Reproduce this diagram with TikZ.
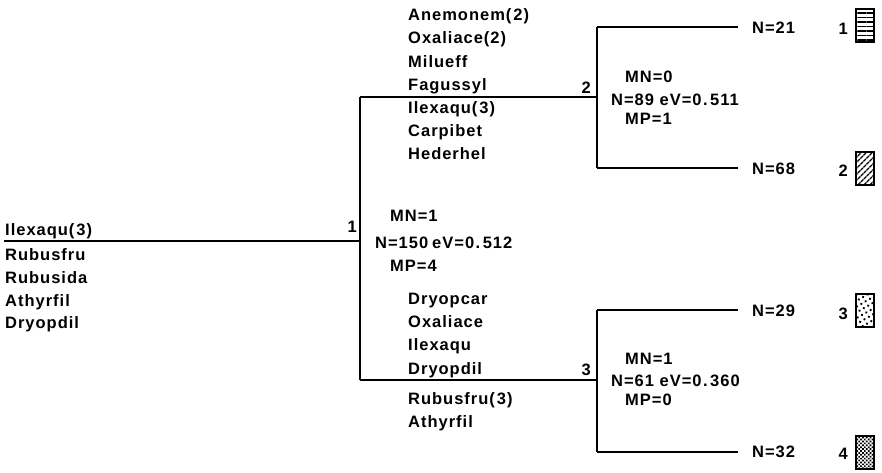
\documentclass[tikz,border=0pt]{standalone}
\usepackage{fontspec}
\setmainfont{Liberation Sans}[LetterSpace=6]
\usetikzlibrary{patterns,patterns.meta}
\newcommand{\opn}{(\kern2pt}
\newcommand{\pt}{\kern1.5pt.\kern2.5pt}
\begin{document}
\begin{tikzpicture}[x=1pt,y=-1pt,
  lbl/.style={anchor=base west,inner sep=0pt,font=\fontsize{16.5}{18}\selectfont\bfseries},
  nlbl/.style={anchor=base east,inner sep=0pt,font=\fontsize{16.5}{18}\selectfont\bfseries},
  branch/.style={line width=1.3pt},
  leafbox/.style={draw,line width=2pt,minimum width=18pt,minimum height=33pt,inner sep=0pt}]
\useasboundingbox (0,0) rectangle (882,472);
% split points and leaf ends
\coordinate (r)   at (4,241);
\coordinate (n1)  at (360,241);
\coordinate (n1t) at (360,97);
\coordinate (n1b) at (360,380);
\coordinate (n2)  at (597,97);
\coordinate (n2t) at (597,27);
\coordinate (n2b) at (597,168);
\coordinate (n3)  at (597,380);
\coordinate (n3t) at (597,310);
\coordinate (n3b) at (597,452);
\coordinate (l1)  at (738,27);
\coordinate (l2)  at (738,168);
\coordinate (l3)  at (738,310);
\coordinate (l4)  at (738,452);
% tree branches
\draw[branch] (r) -- (n1);
\draw[branch] (n1t) -- (n1b);
\draw[branch] (n1t) -- (n2);
\draw[branch] (n1b) -- (n3);
\draw[branch] (n2t) -- (n2b);
\draw[branch] (n2t) -- (l1);
\draw[branch] (n2b) -- (l2);
\draw[branch] (n3t) -- (n3b);
\draw[branch] (n3t) -- (l3);
\draw[branch] (n3b) -- (l4);
% root species lists
\node[lbl] (ra) at (5,235) {Ilexaqu\opn3)};
\node[lbl] (rb) at (5,260) {Rubusfru};
\node[lbl] (rc) at (5,283) {Rubusida};
\node[lbl] (rd) at (5,306) {Athyrfil};
\node[lbl] (re) at (5,328) {Dryopdil};
% node 1
\node[nlbl] (k1) at (357,232) {1};
\node[lbl] (s1a) at (390,221) {MN=1};
\node[lbl] (s1b) at (375,248) {N=150\kern4pt eV=0\pt512};
\node[lbl] (s1c) at (390,271) {MP=4};
% upper species lists
\node[lbl] (ua) at (408,20.7) {Anemonem\opn2)};
\node[lbl] (ub) at (408,43.5) {Oxaliace(2)};
\node[lbl] (uc) at (408,67) {Milueff};
\node[lbl] (ud) at (408,90) {Fagussyl};
\node[lbl] (ue) at (408,113) {Ilexaqu\opn3)};
\node[lbl] (uf) at (408,136) {Carpibet};
\node[lbl] (ug) at (408,159) {Hederhel};
% node 2
\node[nlbl] (k2) at (591,93) {2};
\node[lbl] (s2a) at (625,82) {MN=0};
\node[lbl] (s2b) at (611,105) {N=89 eV=0\pt511};
\node[lbl] (s2c) at (625,124) {MP=1};
% lower species lists
\node[lbl] (la) at (408,304) {Dryopcar};
\node[lbl] (lb) at (408,327) {Oxaliace};
\node[lbl] (lc) at (408,350) {Ilexaqu};
\node[lbl] (ld) at (408,374) {Dryopdil};
\node[lbl] (le) at (408,404) {Rubusfru\opn3)};
\node[lbl] (lf) at (408,427) {Athyrfil};
% node 3
\node[nlbl] (k3) at (591,375) {3};
\node[lbl] (s3a) at (625,364) {MN=1};
\node[lbl] (s3b) at (611,386) {N=61 eV=0\pt360};
\node[lbl] (s3c) at (625,405) {MP=0};
% leaves
\node[lbl] (t1) at (752,33) {N=21};
\node[lbl] (t2) at (752,174) {N=68};
\node[lbl] (t3) at (752,316) {N=29};
\node[lbl] (t4) at (752,457) {N=32};
\node[nlbl] (g1) at (848,34) {1};
\node[nlbl] (g2) at (848,176) {2};
\node[nlbl] (g3) at (848,319) {3};
\node[nlbl] (g4) at (848,459) {4};
\node[leafbox,pattern={Lines[angle=0,distance=4.5pt,line width=1.5pt]}] (b1) at (865,25) {};
\node[leafbox,pattern={Lines[angle=45,distance=4pt,line width=1.4pt]}] (b2) at (865,168) {};
\node[leafbox,pattern={Dots[radius=1.3pt,distance=5pt,angle=30]}] (b3) at (865,310) {};
\node[leafbox,pattern={Dots[radius=1.2pt,distance=2.7pt,angle=45]}] (b4) at (865,452) {};
\end{tikzpicture}
\end{document}
